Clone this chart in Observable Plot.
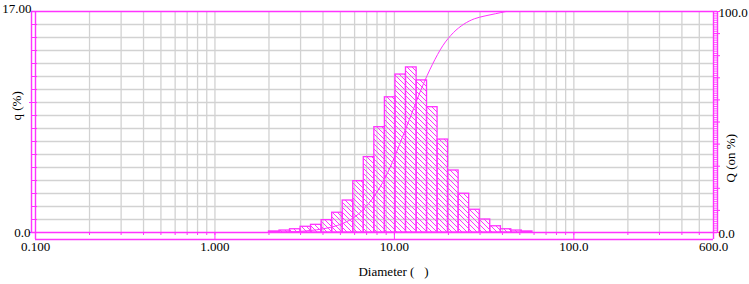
<!DOCTYPE html>
<html><head><meta charset="utf-8">
<script src="https://cdn.jsdelivr.net/npm/d3@7"></script>
<script src="https://cdn.jsdelivr.net/npm/@observablehq/plot@0.6"></script>
<style>
html,body{margin:0;padding:0;background:#fff;}
#chart{position:relative;width:749px;height:284px;}
#chart svg{position:absolute;left:0;top:0;}
</style></head><body><div id="chart"></div>
<script>
// ---- data ----
const binEdges = [2.00, 2.29, 2.62, 3.00, 3.43, 3.93, 4.50, 5.15, 5.90, 6.75, 7.73, 8.85, 10.13, 11.6, 13.3, 15.2, 17.4, 19.9, 22.8, 26.1, 29.9, 34.2, 39.2, 44.8, 51.3, 58.8];
const qValues = [0.08, 0.15, 0.25, 0.44, 0.59, 0.95, 1.52, 2.46, 3.95, 5.8, 8.1, 10.4, 12.15, 12.7, 11.7, 9.64, 7.15, 4.77, 2.98, 1.75, 1.0, 0.48, 0.25, 0.15, 0.08];
const curveDiameters = [2.14, 2.45, 2.81, 3.21, 3.68, 4.21, 4.82, 5.51, 6.31, 7.22, 8.27, 9.47, 10.8, 12.4, 14.2, 16.3, 18.6, 21.3, 24.4, 27.9, 32.0, 36.6, 41.9];
const curveQ = [0.04, 0.15, 0.35, 0.7, 1.2, 2.0, 3.2, 5.2, 8.4, 13.3, 20.2, 29.5, 40.8, 53.2, 65.4, 76.1, 84.5, 90.4, 94.3, 96.7, 98.0, 99.0, 100];
const xGridValues = [0.2,0.3,0.4,0.5,0.6,0.7,0.8,0.9,1,2,3,4,5,6,7,8,9,10,20,30,40,50,60,70,80,90,100,200,300,400,500];
const xDecadeTicks = [0.1, 1, 10, 100, 600];
const xLabelValues = [0.1, 1, 10, 100, 600];
const xLabelTexts = ["0.100", "1.000", "10.00", "100.0", "600.0"];
const yGridValues = [1,2,3,4,5,6,7,8,9,10,11,12,13,14,15,16];
const yMinorTicks = [0,1,2,3,4,5,6,7,8,9,10,11,12,13,14,15,16,17];
const yMajorTicks = [0, 10];
const qAxisLabels = [{v: 0, t: "0.0"}, {v: 17, t: "17.00"}];
const QMinorTicks = d3.range(0, 101, 1);
const QMajorTicks = [0, 10, 20, 30, 40, 50, 60, 70, 80, 90, 100];
const QAxisLabels = [{v: 0, t: "0.0"}, {v: 100, t: "100.0"}];
const xTitle = "Diameter (   )";
const yTitle = "q (%)";
const y2Title = "Q (on %)";

const PINK = "#ff33ff";
const GRID = "#d2d2d2";
const W = 749, H = 284;
const M = {top: 11, right: 36, bottom: 52, left: 35};
const FONT = {fontFamily: "'Liberation Serif', 'Times New Roman', serif", fontSize: "13px", background: "transparent", overflow: "visible", color: "black"};

const bars = qValues.map((v, i) => ({lo: binEdges[i], hi: binEdges[i + 1], q: v}));
const curve = curveDiameters.map((d, i) => ({d, Q: curveQ[i]}));
const xLabels = xLabelValues.map((v, i) => ({v, t: xLabelTexts[i]}));

const main = Plot.plot({
  width: W, height: H,
  marginTop: M.top, marginRight: M.right, marginBottom: M.bottom, marginLeft: M.left,
  style: FONT,
  x: {type: "log", domain: [0.1, 600], axis: null},
  y: {domain: [0, 17], axis: null},
  marks: [
    Plot.ruleX(xGridValues, {stroke: GRID, strokeWidth: 1.3}),
    Plot.ruleY(yGridValues, {stroke: GRID, strokeWidth: 1.3}),
    Plot.rectY(bars, {x1: "lo", x2: "hi", y: "q", fill: "url(#hatch)", stroke: PINK, strokeWidth: 1.3}),
    // frame
    Plot.ruleY([17], {stroke: PINK, strokeWidth: 1.4, insetLeft: -4, insetRight: -4}),
    Plot.ruleY([0], {stroke: PINK, strokeWidth: 1.4, insetLeft: -4, insetRight: -4}),
    Plot.ruleY([0], {stroke: PINK, strokeWidth: 1.4, dy: 7}),
    Plot.ruleX([0.1], {stroke: PINK, strokeWidth: 1.4, insetBottom: -7}),
    Plot.ruleX([0.1], {stroke: PINK, strokeWidth: 1.4, dx: -4}),
    Plot.ruleX([600], {stroke: PINK, strokeWidth: 1.4, insetBottom: -7}),
    // ticks
    Plot.axisY(yMinorTicks, {anchor: "left", tickSize: 6, dx: 2, tickFormat: () => "", label: null, stroke: PINK}),
    Plot.axisY(yMajorTicks, {anchor: "left", tickSize: 8, dx: 2, tickFormat: () => "", label: null, stroke: PINK}),
    Plot.axisX(xGridValues, {anchor: "bottom", tickSize: 3, tickFormat: () => "", label: null, stroke: PINK}),
    Plot.axisX(xDecadeTicks, {anchor: "bottom", tickSize: 7, tickFormat: () => "", label: null, stroke: PINK}),
    // labels
    Plot.text(xLabels, {x: "v", text: "t", frameAnchor: "bottom", dy: 18, fill: "black"}),
    Plot.text(qAxisLabels.slice(0, 1), {y: "v", text: "t", frameAnchor: "left", textAnchor: "end", dx: -5, fill: "black"}),
    Plot.text(qAxisLabels.slice(1), {y: "v", text: "t", frameAnchor: "left", textAnchor: "end", dx: -4, dy: -2.5, fill: "black"}),
    Plot.text([xTitle], {frameAnchor: "bottom", dx: 19, dy: 43, fill: "black"}),
    Plot.text([yTitle], {frameAnchor: "left", dx: -19, dy: -1.5, rotate: -90, fill: "black"})
  ]
});

const overlay = Plot.plot({
  width: W, height: H,
  marginTop: M.top, marginRight: M.right, marginBottom: M.bottom, marginLeft: M.left,
  style: FONT,
  x: {type: "log", domain: [0.1, 600], axis: null},
  y: {domain: [0, 100], axis: null},
  marks: [
    Plot.line(curve, {x: "d", y: "Q", curve: "monotone-x", stroke: PINK, strokeWidth: 1}),
    Plot.ruleX([600], {stroke: PINK, strokeWidth: 1.4, dx: 4}),
    Plot.axisY(QMinorTicks, {anchor: "right", tickSize: 3, tickFormat: () => "", label: null, stroke: PINK, strokeWidth: 0.8}),
    Plot.axisY(QMajorTicks, {anchor: "right", tickSize: 6, tickFormat: () => "", label: null, stroke: PINK}),
    Plot.text(QAxisLabels, {y: "v", text: "t", frameAnchor: "right", textAnchor: "start", dx: 5, dy: 1, fill: "black"}),
    Plot.text([y2Title], {frameAnchor: "right", dx: 17, dy: 12, rotate: -90, fill: "black"})
  ]
});

d3.select(main).insert("defs", ":first-child").html(
  `<pattern id="hatch" patternUnits="userSpaceOnUse" width="5" height="5">
     <path d="M-1,-1 L6,6 M-1,4 L1,6 M4,-1 L6,1" stroke="${PINK}" stroke-width="1" fill="none"/>
   </pattern>`);

const el = document.getElementById("chart");
el.appendChild(main);
el.appendChild(overlay);
</script>
</body></html>
